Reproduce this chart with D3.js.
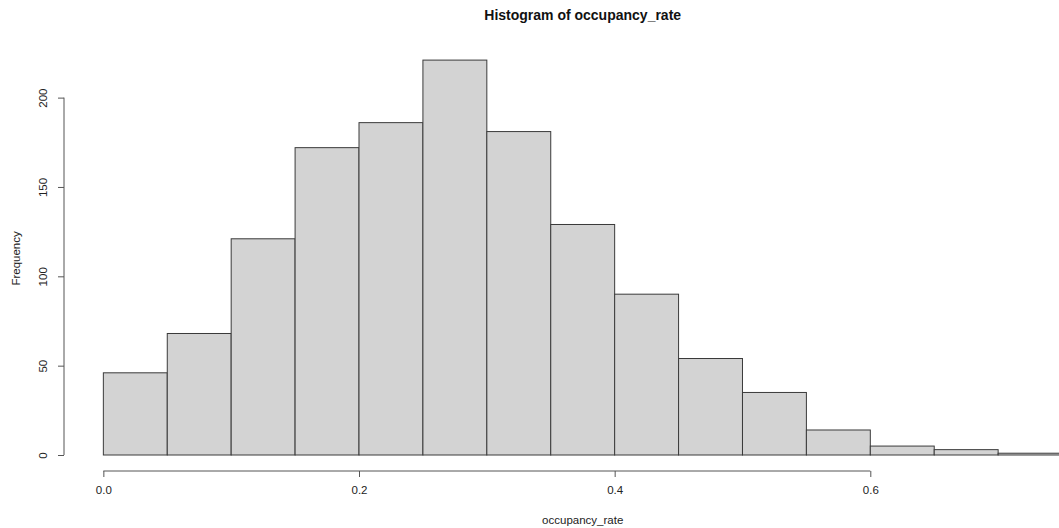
<!DOCTYPE html>
<html>
<head>
<meta charset="utf-8">
<script src="https://cdn.jsdelivr.net/npm/d3@7"></script>
<style>
  body { margin: 0; background: #fff; }
  svg { display: block; font-family: "Liberation Sans", Arial, sans-serif; }
</style>
</head>
<body>
<svg width="1059" height="528"></svg>
<script>
// histogram bins (left edges) and counts
const binStarts = [0, 0.05, 0.1, 0.15, 0.2, 0.25, 0.3, 0.35, 0.4, 0.45, 0.5, 0.55, 0.6, 0.65, 0.7];
const binWidth = 0.05;
const counts = [46, 68, 121, 172, 186, 221, 181, 129, 90, 54, 35, 14, 5, 3, 1];
const xTicks = [0, 0.2, 0.4, 0.6];
const yTicks = [0, 50, 100, 150, 200];

const svg = d3.select('svg');

// R-style plot region: usr extended 4% each side
const x = d3.scaleLinear().domain([-0.03, 0.78]).range([65, 1100.4]);
const y = d3.scaleLinear().domain([-8.84, 229.84]).range([470.8, 44.3]);

const bars = svg.append('g')
    .attr('fill', '#d3d3d3')
    .attr('stroke', '#3a3a3a')
    .attr('stroke-width', 1);

bars.selectAll('rect')
    .data(binStarts)
    .enter()
    .append('rect')
    .attr('x', (d) => x(d))
    .attr('width', (d) => x(d + binWidth) - x(d))
    .attr('y', (d, i) => y(counts[i]))
    .attr('height', (d, i) => y(0) - y(counts[i]));

// x axis
const xAxis = svg.append('g')
    .attr('transform', 'translate(0,471)')
    .call(d3.axisBottom(x).tickValues(xTicks).tickFormat(d3.format('.1f')).tickSize(6).tickPadding(9));
xAxis.select('.domain').remove();
xAxis.append('line')
    .attr('x1', x(xTicks[0]))
    .attr('x2', x(xTicks[xTicks.length - 1]))
    .attr('stroke', '#555');
xAxis.selectAll('.tick line').attr('stroke', '#555');
xAxis.selectAll('text')
    .attr('fill', '#222')
    .style('font-size', '11.5px');

// y axis
const yAxis = svg.append('g')
    .attr('transform', 'translate(64,0)')
    .call(d3.axisLeft(y).tickValues(yTicks).tickSize(6).tickPadding(0));
yAxis.select('.domain').remove();
yAxis.append('line')
    .attr('y1', y(yTicks[0]))
    .attr('y2', y(yTicks[yTicks.length - 1]))
    .attr('stroke', '#555');
yAxis.selectAll('.tick line').attr('stroke', '#555');
yAxis.selectAll('.tick text')
    .attr('x', null)
    .attr('dy', null)
    .attr('fill', '#222')
    .attr('text-anchor', 'middle')
    .attr('transform', 'translate(-17,0) rotate(-90)')
    .attr('y', 0)
    .style('font-size', '11.5px');

// title and labels
svg.append('text')
    .attr('x', x(0.375))
    .attr('y', 20)
    .attr('text-anchor', 'middle')
    .style('font-size', '14px')
    .style('font-weight', 'bold')
    .attr('fill', '#111')
    .text('Histogram of occupancy_rate');

svg.append('text')
    .attr('x', x(0.375))
    .attr('y', 524)
    .attr('text-anchor', 'middle')
    .style('font-size', '11.5px')
    .attr('fill', '#222')
    .text('occupancy_rate');

svg.append('text')
    .attr('transform', `translate(20,${y(110)}) rotate(-90)`)
    .attr('text-anchor', 'middle')
    .style('font-size', '11.5px')
    .attr('fill', '#222')
    .text('Frequency');
</script>
</body>
</html>
